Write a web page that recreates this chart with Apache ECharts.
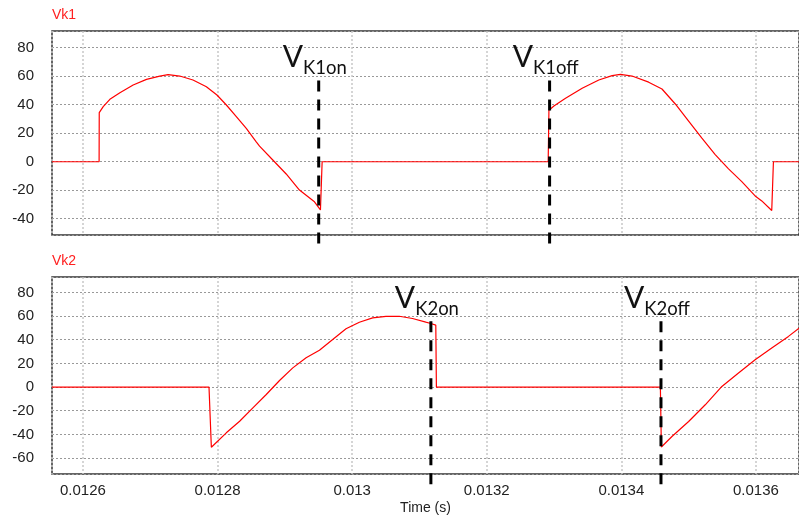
<!DOCTYPE html>
<html>
<head>
<meta charset="utf-8">
<script src="https://cdn.jsdelivr.net/npm/echarts@6/dist/echarts.min.js"></script>
<style>html,body{margin:0;padding:0;background:#fff;}#c{width:799px;height:517px;}</style>
</head>
<body>
<div id="c"></div>
<script>
// ---- data ----
const vk1Time = [0.012554, 0.012624, 0.0126242, 0.0126301, 0.012640, 0.0126549, 0.0126746, 0.0126944, 0.0127142, 0.0127265, 0.0127438, 0.0127635, 0.0127834, 0.0127991, 0.0128131, 0.0128279, 0.0128427, 0.0128575, 0.0128624, 0.0128821, 0.012902, 0.0129217, 0.012944, 0.0129529, 0.0129554, 0.0132913, 0.0132924, 0.0132998, 0.0133171, 0.0133418, 0.0133665, 0.0133863, 0.0133987, 0.0134159, 0.0134406, 0.0134604, 0.0134802, 0.0135, 0.0135197, 0.0135395, 0.0135593, 0.013579, 0.0135988, 0.0136087, 0.0136235, 0.013626, 0.013664];
const vk1Values = [0, 0, 34.4, 38.6, 43.8, 48.4, 53.8, 57.8, 60.1, 61.1, 60.1, 57.3, 52.6, 46.8, 39.8, 31.6, 23.4, 14.0, 11.0, 1.2, -8.6, -19.9, -28.1, -33.8, 0, 0, 36.0, 39.1, 44.5, 51.5, 57.3, 60.4, 61.3, 60.1, 55.8, 51.0, 40.5, 28.5, 16.5, 5.0, -5.0, -14.0, -24.0, -27.5, -34.2, 0, 0];

const vk2Time = [0.012554, 0.0127873, 0.0127908, 0.012813, 0.0128328, 0.0128525, 0.0128724, 0.0128921, 0.0129118, 0.0129316, 0.0129514, 0.0129711, 0.0129909, 0.0130107, 0.0130304, 0.0130502, 0.01307, 0.0130897, 0.0131095, 0.0131169, 0.0131243, 0.0131252, 0.013458, 0.0134595, 0.0134752, 0.0135, 0.0135247, 0.0135494, 0.0135741, 0.0135988, 0.0136235, 0.0136483, 0.013664];
const vk2Values = [0, 0, -50.9, -38.7, -28.9, -17.6, -6.3, 5.5, 16.2, 24.7, 31.1, 40.2, 49.2, 54.8, 58.5, 59.8, 59.8, 57.9, 54.8, 53.7, 52.3, 0, 0, -50.7, -41.8, -29.1, -15.0, 0.5, 11.8, 23.1, 33.0, 42.8, 49.6];

const markerNames = ['K1on', 'K1off', 'K2on', 'K2off'];
const markerTimes = [0.0129503, 0.0132934, 0.013117, 0.0134589];
const markerPanel = [0, 0, 1, 1];
const markerTop = [57, 57, 55.5, 55.5];
const markerBottom = [-60, -60, -84, -84];

const panelNames = ['Vk1', 'Vk2'];
const xRange = [0.012554, 0.013664];
const yRanges = [[-51.4, 91.7], [-73.5, 93]];
const ySplits = [7, 8];
const xTitle = 'Time (s)';

// ---- chart ----
const axisFont = 'Liberation Sans, Arial, sans-serif';
const annFont = 'Lato, Noto Sans, sans-serif';
const chart = echarts.init(document.getElementById('c'), null, {renderer: 'canvas'});

const grids = [
  {left: 52, top: 31, right: -2, height: 204},
  {left: 52, top: 277, right: -2, height: 197}
].map(g => Object.assign(g, {show: true, borderColor: '#333', borderWidth: 1.5, containLabel: false}));

const xAxes = [0, 1].map(i => ({
  type: 'value', gridIndex: i, min: xRange[0], max: xRange[1], splitNumber: 5,
  axisLine: {show: false}, axisTick: {show: false},
  axisLabel: {show: i === 1, showMinLabel: false, showMaxLabel: false, fontFamily: axisFont, fontSize: 15, color: '#222', margin: 9},
  splitLine: {show: true, lineStyle: {type: [2, 2], color: '#c8c8c8', width: 1.5}},
  name: i === 1 ? xTitle : '', nameLocation: 'middle', nameGap: 27,
  nameTextStyle: {fontFamily: axisFont, fontSize: 14, color: '#222'}
}));

const yAxes = [0, 1].map(i => ({
  type: 'value', gridIndex: i, min: yRanges[i][0], max: yRanges[i][1], splitNumber: ySplits[i],
  axisLine: {show: false}, axisTick: {show: false},
  axisLabel: {showMinLabel: false, showMaxLabel: false, fontFamily: axisFont, fontSize: 15, color: '#222', margin: 18},
  splitLine: {show: true, lineStyle: {type: [2, 2], color: '#999', width: 1}},
  name: panelNames[i], nameLocation: 'end', nameGap: 9,
  nameTextStyle: {fontFamily: axisFont, fontSize: 14, color: '#ff2020', align: 'left'}
}));

const series = [
  {type: 'line', xAxisIndex: 0, yAxisIndex: 0, data: vk1Time.map((t, k) => [t, vk1Values[k]]),
   showSymbol: false, symbol: 'none', lineStyle: {color: '#ff0000', width: 1.2}, z: 3, animation: false},
  {type: 'line', xAxisIndex: 1, yAxisIndex: 1, data: vk2Time.map((t, k) => [t, vk2Values[k]]),
   showSymbol: false, symbol: 'none', lineStyle: {color: '#ff0000', width: 1.2}, z: 3, animation: false}
];

markerNames.forEach((nm, k) => {
  const p = markerPanel[k];
  series.push({
    type: 'line', xAxisIndex: p, yAxisIndex: p, clip: false, z: 5, animation: false,
    symbol: 'circle', symbolSize: 0.01, showSymbol: true,
    lineStyle: {color: '#000', width: 3, type: [11, 8]},
    data: [
      {value: [markerTimes[k], markerTop[k]], label: {
        show: true, position: 'top', distance: 3, offset: [-4, 0],
        formatter: '{v|V}{s|' + nm + '}',
        rich: {
          v: {fontFamily: annFont, fontSize: 30, color: '#111', verticalAlign: 'top', lineHeight: 30},
          s: {fontFamily: annFont, fontSize: 18.5, color: '#111', verticalAlign: 'bottom', padding: [16, 0, 0, 0]}
        }
      }},
      {value: [markerTimes[k], markerBottom[k]]}
    ]
  });
});

chart.setOption({
  animation: false,
  backgroundColor: '#fff',
  grid: grids, xAxis: xAxes, yAxis: yAxes, series: series
});
</script>
</body>
</html>
